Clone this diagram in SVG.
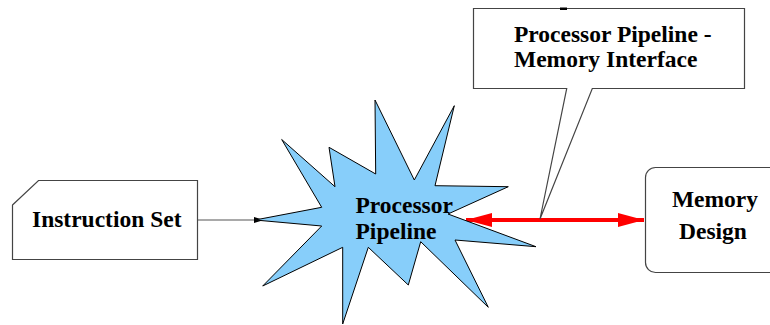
<svg xmlns="http://www.w3.org/2000/svg" width="770" height="325" viewBox="0 0 770 325">
  <style>
    .lbl { font-family: "Liberation Serif", "Times New Roman", serif; font-weight: bold; font-size: 23.5px; fill: #000; }
    .box { fill: #fff; stroke: #444; stroke-width: 1.2; }
  </style>
  <defs>
    <marker id="blackHead" markerUnits="userSpaceOnUse" markerWidth="12" markerHeight="8" refX="10" refY="4" orient="auto">
      <path d="M0,1 L10,4 L0,7 Z" fill="#000"/>
    </marker>
    <marker id="redHead" markerUnits="userSpaceOnUse" markerWidth="27" markerHeight="15" refX="26" refY="7.5" orient="auto-start-reverse">
      <path d="M0,0.5 L26,7.5 L0,14.5 Z" fill="#ff0000"/>
    </marker>
  </defs>

  <g id="connectors">
    <line x1="197" y1="220" x2="264" y2="220" stroke="#555" stroke-width="1.2" marker-end="url(#blackHead)"/>
    <line x1="466" y1="220" x2="644" y2="220" stroke="#ff0000" stroke-width="4" marker-start="url(#redHead)" marker-end="url(#redHead)"/>
  </g>

  <g id="instruction-set">
    <path class="box" d="M12.5,205 L38.5,180.5 L197.5,180.5 L197.5,259.5 L12.5,259.5 Z"/>
    <text class="lbl" x="32" y="227">Instruction Set</text>
  </g>

  <g id="processor-pipeline">
    <polygon fill="#87cefa" stroke="#000" stroke-width="1" stroke-linejoin="miter"
      points="255,220 321.7,207.3 281.7,139.5 335,186.7 329,147.3 375.7,174 375,100 414.3,180 454.3,105.7 435,185.7 508.3,186.7 448,214 536,246.7 455,240 488.3,307.3 420.7,241.7 408.3,285 368.3,247.3 342.7,324 342.7,247.3 262.7,286 321.7,226"/>
    <text class="lbl" x="355.5" y="212.5">Processor</text>
    <text class="lbl" x="355.5" y="239.3">Pipeline</text>
  </g>

  <g id="memory-interface">
    <path class="box" d="M473.5,8.5 L744.5,8.5 L744.5,88.5 L592.3,88.5 L540,219 L566.7,88.5 L473.5,88.5 Z" stroke-width="1"/>
    <rect x="560" y="7.5" width="7" height="2.5" fill="#000"/>
    <text class="lbl" x="514" y="41.5">Processor Pipeline -</text>
    <text class="lbl" x="514" y="66.5">Memory Interface</text>
  </g>

  <g id="memory-design">
    <rect class="box" x="645.5" y="167.5" width="140" height="105" rx="10" ry="10"/>
    <text class="lbl" x="715" y="206.5" text-anchor="middle">Memory</text>
    <text class="lbl" x="713" y="239.3" text-anchor="middle">Design</text>
  </g>
</svg>
